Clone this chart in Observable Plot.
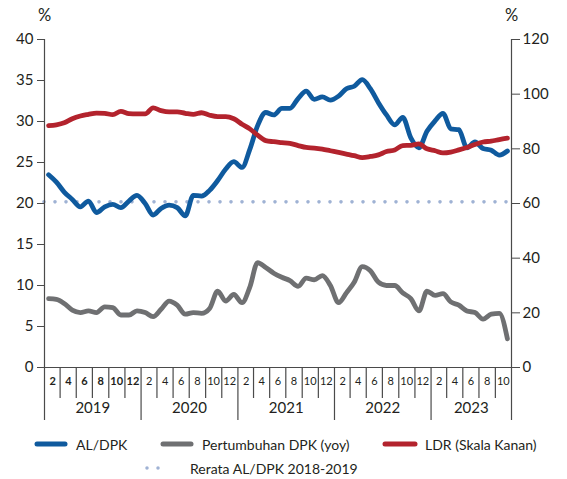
<!DOCTYPE html>
<html><head><meta charset="utf-8">
<script src="https://cdn.jsdelivr.net/npm/d3@7"></script>
<script src="https://cdn.jsdelivr.net/npm/@observablehq/plot@0.6"></script>
<style>
body{margin:0;background:#fff;font-family:Lato,sans-serif;color:#231f20}
#legend{font-size:14px;width:567px;height:49px;position:relative}
.it{position:absolute;display:flex;align-items:center;height:20px;white-space:nowrap}
</style></head><body>
<div id="chart"></div>
<div id="legend">
  <div class="it" style="left:32px;top:4px"><svg width="37" height="8" style="margin-right:7px"><line x1="5" y1="4" x2="33" y2="4" stroke="#0f5a9e" stroke-width="5" stroke-linecap="round"/></svg>AL/DPK</div>
  <div class="it" style="left:158px;top:4px"><svg width="37" height="8" style="margin-right:7px"><line x1="5" y1="4" x2="33" y2="4" stroke="#6f7072" stroke-width="5" stroke-linecap="round"/></svg>Pertumbuhan DPK (yoy)</div>
  <div class="it" style="left:380px;top:4px"><svg width="39" height="8" style="margin-right:6px"><line x1="5" y1="4" x2="35" y2="4" stroke="#b3232d" stroke-width="5" stroke-linecap="round"/></svg>LDR (Skala Kanan)</div>
  <div class="it" style="left:144px;top:28px"><svg width="30" height="8" style="margin-right:16px"><line x1="3" y1="4" x2="25" y2="4" stroke="#9fb2d4" stroke-width="3.5" stroke-linecap="round" stroke-dasharray="0 11"/></svg>Rerata AL/DPK 2018-2019</div>
</div>
<script>
// Monthly data, Jan 2019 - Oct 2023
const alDpk = [23.5,22.6,21.4,20.5,19.6,20.3,18.9,19.6,19.9,19.5,20.3,21.0,
  20.0,18.6,19.4,19.8,19.5,18.5,21.0,20.9,21.6,22.8,24.2,25.1,
  24.4,26.6,29.5,31.1,30.8,31.6,31.6,32.8,33.7,32.7,33.0,32.6,
  33.1,34.0,34.3,35.1,34.0,32.3,30.8,29.6,30.5,28.0,26.8,28.8,
  30.1,31.0,29.1,29.0,26.8,27.5,26.7,26.5,25.9,26.4];
const dpkGrowth = [8.4,8.3,7.8,7.0,6.7,6.9,6.7,7.4,7.3,6.4,6.4,6.9,
  6.7,6.2,7.1,8.1,7.6,6.5,6.7,6.6,7.2,9.3,8.1,8.9,
  7.9,9.8,12.8,12.2,11.5,11.0,10.6,9.9,10.9,10.7,11.2,10.0,
  7.9,9.1,10.4,12.3,11.8,10.4,10.0,10.0,9.1,8.4,6.9,9.3,
  8.8,9.0,8.0,7.6,6.9,6.7,5.9,6.5,6.6,3.5];
const ldr = [88.5,88.8,89.5,91.0,92.0,92.6,93.1,93.0,92.5,93.7,92.9,92.8,
  92.8,95.0,94.0,93.5,93.5,93.0,92.6,93.2,92.3,91.8,91.8,91.0,
  89.0,87.3,85.0,83.0,82.6,82.3,82.0,81.2,80.5,80.3,79.9,79.3,
  78.7,78.1,77.5,76.8,77.2,77.8,79.0,79.6,81.2,81.3,81.8,80.0,
  79.3,78.5,78.8,79.6,80.5,81.6,82.5,82.8,83.4,83.9];
const rerataAlDpk = 20.2;
const leftTicks = [0,5,10,15,20,25,30,35,40];
const rightTicks = [0,20,40,60,80,100,120];
const years = ["2019","2020","2021","2022","2023"];
const monthLabels = ["2","4","6","8","10","12"];

const ratio = 3; // right scale / left scale
const x0 = new Date(Date.UTC(2019,0,1));
const x1 = new Date(Date.UTC(2019,alDpk.length,1));
const monthStart = i => new Date(Date.UTC(2019,i,1));
const monthMid = i => new Date((+monthStart(i) + +monthStart(i+1))/2);

const rows = alDpk.map((v,i) => ({date: monthMid(i), al: v, dpk: dpkGrowth[i], ldr: ldr[i]/ratio}));

const allMonths = d3.range(0, alDpk.length).map(monthStart);
const minorTicks = allMonths.filter(d => d.getUTCMonth() % 2 === 0 && d.getUTCMonth() !== 0);
const yearTicks = years.map(y => new Date(Date.UTC(+y,0,1))).concat([x1]);
const labelTicks = allMonths.filter(d => d.getUTCMonth() % 2 === 1);
const labelTicksBold = labelTicks.filter(d => d.getUTCFullYear() === 2019);
const labelTicksNormal = labelTicks.filter(d => d.getUTCFullYear() !== 2019);
const yearCenters = years.map((y,i) => new Date((+yearTicks[i] + +yearTicks[i+1])/2));
const mLabel = d => monthLabels[(d.getUTCMonth()-1)/2];

const axisColor = "#4a4a4a";
const lw = 4.8;
const chart = Plot.plot({
  width: 567, height: 430,
  marginTop: 39, marginLeft: 44, marginRight: 56, marginBottom: 63,
  style: {fontFamily: "Lato, sans-serif", fontSize: "15px", color: "#231f20", background: "#fff"},
  x: {type: "utc", domain: [x0, x1]},
  y: {domain: [0, 40]},
  marks: [
    Plot.ruleY([rerataAlDpk], {stroke: "#9fb2d4", strokeWidth: 3.6, strokeDasharray: "0 11", strokeLinecap: "round"}),
    Plot.line(rows, {x: "date", y: "dpk", stroke: "#6f7072", strokeWidth: lw, curve: "monotone-x", strokeLinejoin: "round", strokeLinecap: "round"}),
    Plot.line(rows, {x: "date", y: "al", stroke: "#0f5a9e", strokeWidth: lw, curve: "monotone-x", strokeLinejoin: "round", strokeLinecap: "round"}),
    Plot.line(rows, {x: "date", y: "ldr", stroke: "#b3232d", strokeWidth: lw, curve: "monotone-x", strokeLinejoin: "round", strokeLinecap: "round"}),
    Plot.ruleY([0], {stroke: axisColor, strokeWidth: 1.2}),
    Plot.ruleX([x0, x1], {y1: 0, y2: 40, stroke: axisColor, strokeWidth: 1.2}),
    Plot.axisY(leftTicks, {anchor: "left", tickSize: 7, tickPadding: 4, fontSize: 15, stroke: axisColor, label: null}),
    Plot.axisY(rightTicks.map(v => v/ratio), {anchor: "right", tickSize: 8, tickPadding: 3, fontSize: 15, stroke: axisColor, label: null, tickFormat: d => String(Math.round(d*ratio))}),
    Plot.axisX(minorTicks, {tickSize: 31, tickFormat: () => "", stroke: axisColor, strokeWidth: 1.2, label: null}),
    Plot.axisX(yearTicks, {tickSize: 53, tickFormat: () => "", stroke: axisColor, strokeWidth: 1.2, label: null}),
    Plot.axisX(labelTicksBold, {tickSize: 0, tickPadding: 10, fontSize: 11, fontWeight: "bold", tickFormat: mLabel, label: null}),
    Plot.axisX(labelTicksNormal, {tickSize: 0, tickPadding: 10, fontSize: 11, tickFormat: mLabel, label: null}),
    Plot.axisX(yearCenters, {tickSize: 0, tickPadding: 35, fontSize: 15, tickFormat: d => String(years[yearCenters.indexOf(d)] ?? d.getUTCFullYear()), label: null}),
    Plot.text(["%"], {frameAnchor: "top-left", dy: -24, fontSize: 16.5, textAnchor: "middle", lineAnchor: "middle"}),
    Plot.text(["%"], {frameAnchor: "top-right", dy: -24, fontSize: 16.5, textAnchor: "middle", lineAnchor: "middle"})
  ]
});
document.getElementById("chart").appendChild(chart);
</script>
</body></html>
